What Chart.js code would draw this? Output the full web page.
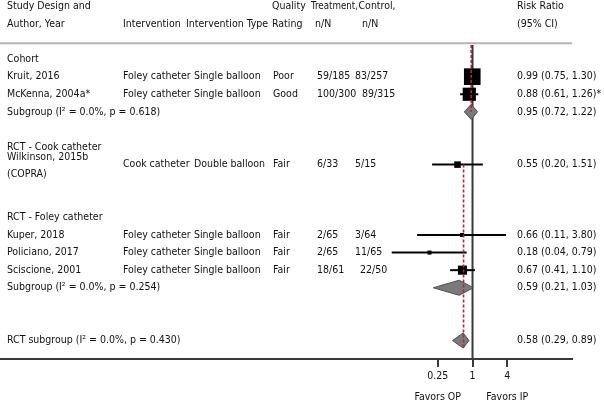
<!DOCTYPE html>
<html><head><meta charset="utf-8">
<script src="https://cdn.jsdelivr.net/npm/chart.js@4.4.0/dist/chart.umd.min.js"></script>
<style>html,body{margin:0;padding:0;background:#fff;}#wrap{width:604px;height:401px;position:relative;}</style>
</head><body><div id="wrap"><canvas id="c" width="604" height="401"></canvas></div>
<script>
// ---------------- DATA ----------------
const rowLabels = ['Cohort','Kruit, 2016','McKenna, 2004a*','Subgroup (I² = 0.0%, p = 0.618)','',
  'RCT - Cook catheter','Wilkinson, 2015b\n(COPRA)','','','RCT - Foley catheter',
  'Kuper, 2018','Policiano, 2017','Sciscione, 2001','Subgroup (I² = 0.0%, p = 0.254)','','',
  'RCT subgroup (I² = 0.0%, p = 0.430)'];
const studyNames = ['Kruit, 2016','McKenna, 2004a*','Wilkinson, 2015b\n(COPRA)','Kuper, 2018','Policiano, 2017','Sciscione, 2001'];
const interventions = ['Foley catheter','Foley catheter','Cook catheter','Foley catheter','Foley catheter','Foley catheter'];
const interventionTypes = ['Single balloon','Single balloon','Double balloon','Single balloon','Single balloon','Single balloon'];
const qualityRatings = ['Poor','Good','Fair','Fair','Fair','Fair'];
const treatmentNN = ['59/185','100/300','6/33','2/65','2/65','18/61'];
const controlNN = ['83/257','89/315','5/15','3/64','11/65','22/50'];
const riskRatio = [0.99,0.88,0.55,0.66,0.18,0.67];
const ciLow = [0.75,0.61,0.20,0.11,0.04,0.41];
const ciHigh = [1.30,1.26,1.51,3.80,0.79,1.10];
const studyWeights = [27,17,4.2,1.6,1.6,8.1];
const rrLabels = ['0.99 (0.75, 1.30)','0.88 (0.61, 1.26)*','0.55 (0.20, 1.51)','0.66 (0.11, 3.80)','0.18 (0.04, 0.79)','0.67 (0.41, 1.10)'];
const pooledNames = ['Subgroup (I² = 0.0%, p = 0.618)','Subgroup (I² = 0.0%, p = 0.254)','RCT subgroup (I² = 0.0%, p = 0.430)'];
const pooledEst = [0.95,0.59,0.69];
const pooledLow = [0.72,0.21,0.45];
const pooledHigh = [1.22,1.03,0.87];
const pooledLabels = ['0.95 (0.72, 1.22)','0.59 (0.21, 1.03)','0.58 (0.29, 0.89)'];
const groupHeaders = ['Cohort','RCT - Cook catheter','RCT - Foley catheter'];
const overallRefs = [0.95, 0.70];
const tickValues = [0.25, 1, 4];
const tickLabels = ['0.25','1','4'];
const nullValue = 1;

// ---------------- LAYOUT ----------------
const FONT = '"DejaVu Sans Condensed", "DejaVu Sans", sans-serif';
const FS = 10.5;
const TXT = '#111';
const rowOf = n => rowLabels.indexOf(n);
const yTop = -0.8, yBottom = 17.05;

const datasets = [];
// overall dashed reference lines
datasets.push({data:[{x:overallRefs[0],y:yTop},{x:overallRefs[0],y:rowOf(pooledNames[0])}],
  borderColor:'#b3262a',borderWidth:1.6,borderDash:[3,2],pointRadius:0,fill:false});
datasets.push({data:[{x:overallRefs[1],y:rowOf(studyNames[2])},{x:overallRefs[1],y:rowOf(pooledNames[2])+0.45}],
  borderColor:'#b3262a',borderWidth:1.6,borderDash:[3,2],pointRadius:0,fill:false});
// squares
datasets.push({data:studyNames.map((n,i)=>({x:riskRatio[i],y:rowOf(n)})),
  showLine:false,pointStyle:'rect',pointRadius:studyWeights.map(w=>Math.sqrt(w)*3.2/1.4142),
  pointBackgroundColor:'#000',pointBorderWidth:0,pointBorderColor:'#000'});
// whiskers
studyNames.forEach((n,i)=>{
  datasets.push({data:[{x:ciLow[i],y:rowOf(n)},{x:ciHigh[i],y:rowOf(n)}],
    borderColor:'#000',borderWidth:2,pointRadius:0,fill:false});
});
// diamonds
const H = 0.43;
pooledNames.forEach((n,i)=>{
  const r = rowOf(n);
  datasets.push({data:[{x:pooledLow[i],y:r},{x:pooledEst[i],y:r-H},{x:pooledHigh[i],y:r},{x:pooledEst[i],y:r+H},{x:pooledLow[i],y:r}],
    borderColor:'#4d4d4d',borderWidth:1,backgroundColor:'#7a7a7a',fill:'shape',pointRadius:0,tension:0});
});
// null line
datasets.push({data:[{x:nullValue,y:yTop},{x:nullValue,y:yBottom}],borderColor:'#3a3a3a',borderWidth:2,pointRadius:0,fill:false});

const textPlugin = {
  id:'forestText',
  afterDraw(chart){
    const ctx = chart.ctx, ys = chart.scales.y, xs = chart.scales.x, ca = chart.chartArea;
    const Y = r => ys.getPixelForValue(r);
    ctx.save();
    ctx.font = FS+'px '+FONT;
    ctx.fillStyle = TXT;
    ctx.textBaseline = 'middle';
    ctx.textAlign = 'left';
    const t = (s,x,y,w)=> w ? ctx.fillText(s,x,y,w) : ctx.fillText(s,x,y);
    // header
    t('Study Design and',7,Y(-3)); t('Author, Year',7,Y(-2));
    t('Intervention',123,Y(-2)); t('Intervention Type',186,Y(-2));
    t('Quality',272,Y(-3)); t('Rating',272,Y(-2));
    t('Treatment,',311,Y(-3),47); t('n/N',315,Y(-2));
    t('Control,',358.5,Y(-3)); t('n/N',362,Y(-2));
    t('Risk Ratio',517,Y(-3)); t('(95% CI)',517,Y(-2));
    // header rule
    ctx.strokeStyle = '#b4b4b4'; ctx.lineWidth = 2;
    ctx.beginPath(); ctx.moveTo(ca.left,Y(-0.9)); ctx.lineTo(ca.right,Y(-0.9)); ctx.stroke();
    // group headers
    groupHeaders.forEach(g=>t(g,7,Y(rowOf(g))));
    // studies
    const controlXs = [355,362,355,355,355,360];
    studyNames.forEach((n,i)=>{
      const y = Y(rowOf(n));
      const lines = n.split('\n');
      if(lines.length===1) t(n,7,y); else { t(lines[0],7,y-7.5); t(lines[1],7,y+10); }
      t(interventions[i],123,y); t(interventionTypes[i],194,y);
      t(qualityRatings[i],273,y); t(treatmentNN[i],317,y); t(controlNN[i],controlXs[i],y);
      t(rrLabels[i],517,y);
    });
    pooledNames.forEach((n,i)=>{ const y=Y(rowOf(n)); t(n,7,y); t(pooledLabels[i],517,y); });
    // favors
    ctx.textAlign='center';
    t('Favors OP',xs.getPixelForValue(tickValues[0]),ca.bottom+38);
    t('Favors IP',xs.getPixelForValue(tickValues[2]),ca.bottom+38);
    ctx.restore();
  }
};

new Chart(document.getElementById('c'),{
  type:'line',
  data:{datasets},
  options:{
    responsive:false,animation:false,
    layout:{autoPadding:false,padding:{top:45,right:32,left:0,bottom:0}},
    plugins:{legend:{display:false},tooltip:{enabled:false}},
    elements:{line:{tension:0}},
    scales:{
      x:{type:'logarithmic',min:6.7e-9,max:52.6,
        afterBuildTicks:s=>{s.ticks=tickValues.map(v=>({value:v}));},
        afterFit:s=>{s.height=42;},
        border:{color:'#3a3a3a',width:2},
        grid:{drawOnChartArea:false,drawTicks:true,tickLength:8,color:'#3a3a3a',lineWidth:2},
        ticks:{autoSkip:false,maxRotation:0,padding:3,color:TXT,font:{family:FONT,size:FS},
          callback:(v)=>{const k=tickValues.indexOf(v);return k>=0?tickLabels[k]:'';}}
      },
      y:{type:'linear',reverse:true,min:yTop,max:yBottom,display:false}
    }
  },
  plugins:[textPlugin]
});
</script></body></html>
